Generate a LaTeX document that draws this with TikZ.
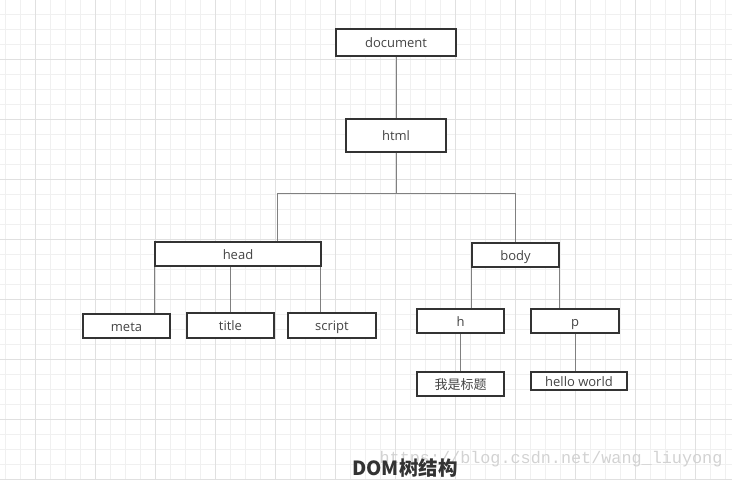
\documentclass[tikz,border=0pt]{standalone}
\usepackage{fontspec}
\setmainfont{Open Sans}
\newfontfamily\cjk{Noto Sans CJK SC}
\newfontfamily\markfont{Liberation Mono}
\definecolor{gridminor}{HTML}{F0F0F0}
\definecolor{gridmajor}{HTML}{E0E0E0}
\definecolor{boxline}{HTML}{333333}
\definecolor{linkline}{HTML}{808080}
\definecolor{labeltext}{HTML}{444444}
\definecolor{marktext}{HTML}{D2D2D2}

\begin{document}
\begin{tikzpicture}[x=1pt,y=-1pt]
                        \tikzstyle{tag}=[draw=boxline,line width=1.6pt,fill=white,text=labeltext,inner sep=0pt,
                            minimum width=87pt,minimum height=24pt,text height=10pt,text depth=0pt,
                            font=\fontsize{13}{13}\selectfont]
                        \tikzstyle{link}=[draw=linkline,line width=0.9pt]
                        \useasboundingbox (0,0) rectangle (732,480);
                        \foreach \x in {5,20,...,725} \draw[gridminor,line width=1pt] (\x,0) -- (\x,480);
                        \foreach \y in {14,29,...,479} \draw[gridminor,line width=1pt] (0,\y) -- (732,\y);
                        \foreach \x in {35,95,...,725} \draw[gridmajor,line width=1pt] (\x,0) -- (\x,480);
                        \foreach \y in {59,119,...,479} \draw[gridmajor,line width=1pt] (0,\y) -- (732,\y);

                        \node[tag,minimum width=120pt,minimum height=27pt] (document) at (396,42.5) {document};
                        \node[tag,minimum width=100pt,minimum height=33pt] (html) at (396,135.5) {html};
                        \node[tag,minimum width=166pt] (head) at (238,254) {head};
                        \node[tag] (body) at (515.5,255) {body};
                        \node[tag] (meta) at (126.5,326) {meta};
                        \node[tag,minimum height=25pt] (title) at (230.5,325.5) {title};
                        \node[tag,minimum width=88pt,minimum height=25pt] (script) at (332,325.5) {script};
                        \node[tag] (h) at (460.5,321) {h};
                        \node[tag,minimum width=88pt] (p) at (575,321) {p};
                        \node[tag,font=\cjk\fontsize{13}{13}\selectfont] (heading) at (460.5,384) {我是标题};
                        \node[tag,minimum width=96pt,minimum height=18pt] (hello) at (579,381) {hello world};

                        \coordinate (busL) at (277,193);
                        \coordinate (busR) at (515.5,193);
                        \draw[link] (document) -- (html);
                        \draw[link] (html.south) -- (html.south |- busL);
                        \draw[link] (busL |- head.north) -- (busL) -- (busR) -- (body.north);
                        \draw[link] ([xshift=0.5pt]head.south west) -- ([xshift=0.5pt]head.south west |- meta.north);
                        \draw[link] (title.north) -- (title.north |- head.south);
                        \draw[link] ([xshift=-1.5pt]head.south east) -- ([xshift=-1.5pt]head.south east |- script.north);
                        \draw[link] (body.south west) -- (body.south west |- h.north);
                        \draw[link] (body.south east) -- (body.south east |- p.north);
                        \draw[link] (h) -- (heading);
                        \draw[link] (p) -- (p |- hello.north);

                        \node[font=\markfont\fontsize{16.8}{17}\selectfont,text=marktext] (mark) at (551,459) {https://blog.csdn.net/wang\_liuyong};
                        \node[font=\cjk\bfseries\fontsize{19.5}{20}\selectfont,text=boxline] (caption) at (405,468) {DOM树结构};
                    \end{tikzpicture}
\end{document}
